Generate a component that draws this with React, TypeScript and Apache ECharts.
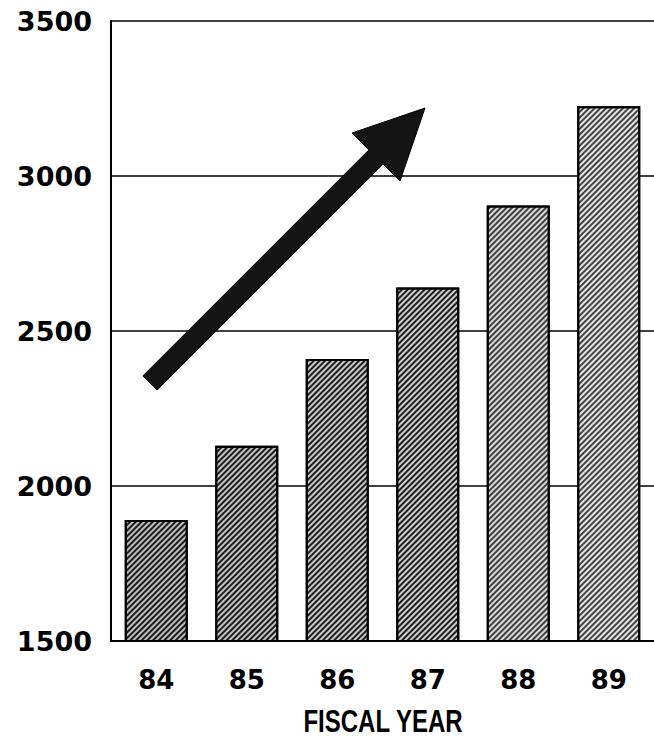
import React, { useEffect, useRef } from "react";
import * as echarts from "echarts";

// Fiscal years and spending totals
const years = ["84", "85", "86", "87", "88", "89"];
const totals = [1890, 2130, 2410, 2640, 2905, 3225];
// Bar shading, darkest for the earliest year
const barFills = ["#bdbdbd", "#c2c2c2", "#c8c8c8", "#cecece", "#d8d8d8", "#e4e4e4"];
const yTicks = { min: 1500, max: 3500, step: 500 };
const axisTitle = "FISCAL YEAR";

// Trend arrow outline (pixels)
const arrowPoints: number[][] = [
  [142.9, 375.9],
  [368.9, 149.9],
  [352, 133],
  [425, 108],
  [400, 181],
  [383.1, 164.1],
  [157.1, 390.1],
];

export default function App() {
  const ref = useRef<HTMLDivElement>(null);

  useEffect(() => {
    if (!ref.current) return;
    const chart = echarts.init(ref.current, null, { renderer: "svg" });
    chart.setOption({
      animation: false,
      backgroundColor: "#ffffff",
      grid: { left: 111, right: 0, top: 21, bottom: 99 },
      xAxis: {
        type: "category",
        data: years,
        axisLine: { lineStyle: { color: "#000", width: 2 } },
        axisTick: { show: false },
        axisLabel: {
          color: "#000",
          fontFamily: "DejaVu Sans",
          fontWeight: "bold",
          fontSize: 26,
          margin: 26,
        },
      },
      yAxis: {
        type: "value",
        min: yTicks.min,
        max: yTicks.max,
        interval: yTicks.step,
        axisLine: { show: true, lineStyle: { color: "#000", width: 2 } },
        axisTick: { show: false },
        splitLine: { lineStyle: { color: "#000", width: 1.5 } },
        axisLabel: {
          color: "#000",
          fontFamily: "DejaVu Sans",
          fontWeight: "bold",
          fontSize: 27,
          margin: 19,
          formatter: (v: number) => String(v),
        },
      },
      series: [
        {
          type: "bar",
          barWidth: 63,
          data: totals.map((v, i) => ({
            value: v,
            itemStyle: {
              color: barFills[i],
              borderColor: "#000",
              borderWidth: 2,
              decal: {
                symbol: "rect",
                symbolSize: 1,
                dashArrayX: [1, 0],
                dashArrayY: [2, 2],
                rotation: -Math.PI / 4,
                color: i < 4 ? "rgba(0,0,0,0.85)" : "rgba(0,0,0,0.7)",
              },
            },
          })),
        },
      ],
      graphic: [
        {
          type: "polygon",
          shape: { points: arrowPoints },
          style: { fill: "#141414", stroke: "#000", lineWidth: 1 },
          z: 10,
        },
        {
          type: "text",
          x: 383,
          y: 721,
          scaleY: 1.3,
          style: {
            text: axisTitle,
            fill: "#000",
            font: "bold 24px 'Liberation Sans'",
            textAlign: "center",
            textVerticalAlign: "middle",
          },
        },
      ],
    });
    return () => chart.dispose();
  }, []);

  return (
    <div
      ref={ref}
      style={{ position: "absolute", left: 0, top: 0, width: 654, height: 740 }}
    />
  );
}
